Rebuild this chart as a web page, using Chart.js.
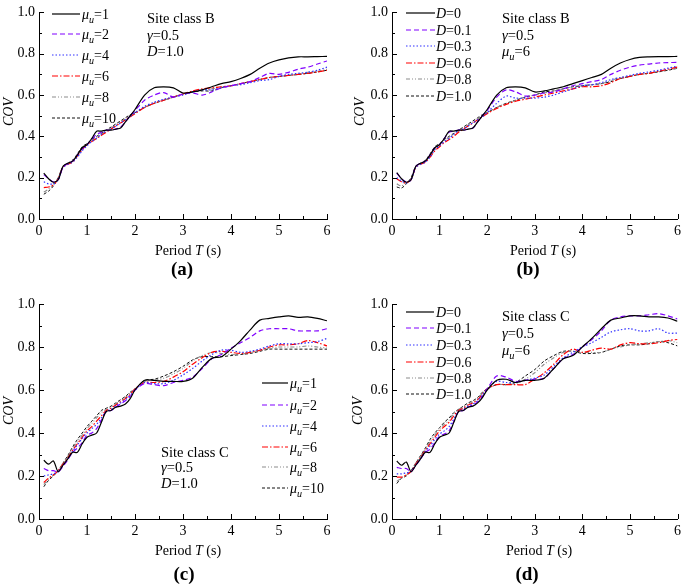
<!DOCTYPE html>
<html>
<head>
<meta charset="utf-8">
<script src="https://cdn.jsdelivr.net/npm/chart.js@4.4.0/dist/chart.umd.min.js"></script>
<style>
  body { margin: 0; background: #fff; }
  #wrap { position: relative; width: 685px; height: 587px; overflow: hidden; }
  canvas { position: absolute; }
</style>
</head>
<body>
<div id="wrap">
  <canvas id="chartA" width="342" height="290" style="left:0;top:0"></canvas>
  <canvas id="chartB" width="343" height="290" style="left:342px;top:0"></canvas>
  <canvas id="chartC" width="342" height="297" style="left:0;top:290px"></canvas>
  <canvas id="chartD" width="343" height="297" style="left:342px;top:290px"></canvas>
</div>
<script>
// ---------- Data ----------
const periodT = [0.1, 0.2, 0.3, 0.4, 0.5, 0.6, 0.7, 0.8, 0.9, 1.0, 1.1, 1.2, 1.3, 1.4, 1.5, 1.6, 1.7, 1.8, 1.9, 2.0,
                 2.2, 2.4, 2.6, 2.8, 3.0, 3.2, 3.4, 3.6, 3.8, 4.0, 4.2, 4.4, 4.6, 4.8, 5.0, 5.2, 5.4, 5.6, 5.8, 6.0];

const xTicks = [0, 1, 2, 3, 4, 5, 6];
const yTicks = [0.0, 0.2, 0.4, 0.6, 0.8, 1.0];

const muLabels = ["1", "2", "4", "6", "8", "10"];
const dampLabels = ["0", "0.1", "0.3", "0.6", "0.8", "1.0"];

// (a) site class B, varying mu_u
const aMu1  = [0.222,0.195,0.178,0.19,0.255,0.27,0.28,0.31,0.345,0.36,0.39,0.425,0.425,0.43,0.43,0.435,0.44,0.47,0.50,0.53, 0.60,0.635,0.64,0.635,0.61,0.615,0.625,0.64,0.655,0.665,0.68,0.70,0.73,0.755,0.77,0.78,0.785,0.785,0.786,0.787];
const aMu2  = [0.215,0.195,0.18,0.19,0.25,0.27,0.28,0.31,0.34,0.36,0.385,0.41,0.42,0.43,0.43,0.435,0.445,0.47,0.50,0.525, 0.575,0.60,0.612,0.59,0.605,0.61,0.60,0.615,0.635,0.645,0.655,0.665,0.685,0.705,0.70,0.71,0.725,0.735,0.75,0.765];
const aMu4  = [0.18,0.17,0.17,0.19,0.25,0.265,0.275,0.30,0.33,0.355,0.375,0.39,0.41,0.425,0.435,0.45,0.465,0.48,0.495,0.515, 0.545,0.565,0.58,0.59,0.60,0.615,0.625,0.625,0.635,0.645,0.65,0.66,0.67,0.675,0.69,0.70,0.705,0.71,0.72,0.735];
const aMu6  = [0.152,0.155,0.165,0.195,0.25,0.265,0.275,0.305,0.335,0.36,0.375,0.39,0.405,0.42,0.435,0.45,0.465,0.48,0.495,0.51, 0.54,0.56,0.575,0.59,0.605,0.62,0.63,0.635,0.64,0.645,0.655,0.665,0.675,0.685,0.69,0.695,0.70,0.705,0.712,0.72];
const aMu8  = [0.13,0.145,0.17,0.2,0.255,0.27,0.28,0.31,0.345,0.365,0.38,0.395,0.41,0.425,0.44,0.455,0.47,0.485,0.50,0.515, 0.54,0.56,0.575,0.59,0.605,0.615,0.625,0.63,0.64,0.645,0.655,0.665,0.675,0.685,0.69,0.695,0.70,0.71,0.715,0.725];
const aMu10 = [0.12,0.135,0.16,0.2,0.255,0.27,0.285,0.315,0.35,0.365,0.385,0.40,0.415,0.43,0.445,0.46,0.475,0.49,0.505,0.515, 0.54,0.56,0.575,0.59,0.605,0.615,0.62,0.62,0.635,0.645,0.655,0.665,0.675,0.685,0.69,0.695,0.70,0.705,0.712,0.72];

// (b) site class B, varying D
const bD0  = [0.225,0.195,0.178,0.19,0.255,0.27,0.28,0.31,0.345,0.36,0.39,0.425,0.425,0.43,0.43,0.435,0.44,0.47,0.50,0.53, 0.60,0.635,0.64,0.635,0.615,0.62,0.63,0.64,0.655,0.67,0.685,0.70,0.73,0.755,0.772,0.782,0.785,0.786,0.786,0.787];
const bD01 = [0.222,0.195,0.18,0.19,0.255,0.27,0.28,0.31,0.345,0.36,0.39,0.42,0.425,0.43,0.43,0.435,0.44,0.47,0.50,0.525, 0.59,0.625,0.615,0.595,0.60,0.61,0.615,0.63,0.645,0.655,0.665,0.675,0.70,0.72,0.735,0.745,0.75,0.755,0.757,0.758];
const bD03 = [0.20,0.185,0.175,0.19,0.25,0.265,0.275,0.30,0.335,0.355,0.375,0.39,0.41,0.43,0.435,0.45,0.465,0.48,0.495,0.515, 0.56,0.595,0.585,0.585,0.585,0.59,0.60,0.615,0.63,0.645,0.65,0.66,0.675,0.685,0.695,0.705,0.712,0.72,0.73,0.74];
const bD06 = [0.195,0.18,0.175,0.19,0.25,0.265,0.275,0.30,0.33,0.35,0.37,0.385,0.40,0.42,0.435,0.45,0.465,0.48,0.495,0.51, 0.535,0.555,0.57,0.58,0.59,0.60,0.61,0.62,0.63,0.64,0.64,0.645,0.66,0.68,0.69,0.70,0.705,0.715,0.725,0.735];
const bD08 = [0.17,0.16,0.175,0.195,0.25,0.27,0.28,0.31,0.34,0.36,0.38,0.395,0.41,0.425,0.44,0.455,0.47,0.485,0.50,0.515, 0.54,0.56,0.575,0.59,0.60,0.61,0.62,0.63,0.64,0.645,0.65,0.655,0.67,0.685,0.69,0.70,0.705,0.715,0.72,0.73];
const bD10 = [0.155,0.15,0.17,0.2,0.255,0.27,0.285,0.315,0.35,0.365,0.385,0.40,0.415,0.43,0.445,0.46,0.475,0.49,0.505,0.515, 0.54,0.56,0.575,0.59,0.60,0.615,0.62,0.63,0.64,0.645,0.65,0.655,0.665,0.68,0.69,0.70,0.705,0.712,0.72,0.73];

// (c) site class C, varying mu_u
const cMu1  = [0.273,0.255,0.27,0.22,0.25,0.28,0.31,0.31,0.35,0.38,0.39,0.40,0.45,0.50,0.505,0.52,0.525,0.535,0.56,0.60, 0.645,0.645,0.64,0.64,0.64,0.655,0.705,0.747,0.755,0.79,0.83,0.88,0.925,0.933,0.94,0.945,0.938,0.94,0.933,0.922];
const cMu2  = [0.235,0.225,0.225,0.22,0.245,0.275,0.31,0.33,0.355,0.39,0.40,0.42,0.46,0.50,0.505,0.52,0.535,0.55,0.57,0.60, 0.63,0.625,0.62,0.635,0.645,0.66,0.70,0.745,0.765,0.795,0.82,0.845,0.875,0.885,0.885,0.885,0.875,0.875,0.875,0.885];
const cMu4  = [0.20,0.205,0.21,0.22,0.25,0.28,0.315,0.345,0.375,0.40,0.42,0.44,0.47,0.50,0.51,0.525,0.54,0.555,0.575,0.60, 0.635,0.63,0.63,0.645,0.67,0.70,0.735,0.765,0.785,0.785,0.775,0.78,0.79,0.805,0.815,0.815,0.815,0.82,0.825,0.84];
const cMu6  = [0.17,0.19,0.205,0.225,0.255,0.285,0.32,0.35,0.38,0.41,0.43,0.455,0.48,0.505,0.515,0.53,0.545,0.56,0.58,0.605, 0.635,0.635,0.64,0.66,0.685,0.72,0.75,0.775,0.78,0.775,0.77,0.775,0.785,0.80,0.81,0.81,0.815,0.83,0.82,0.805];
const cMu8  = [0.16,0.185,0.205,0.225,0.26,0.29,0.33,0.36,0.39,0.42,0.445,0.47,0.495,0.51,0.52,0.535,0.55,0.565,0.585,0.605, 0.64,0.645,0.655,0.675,0.70,0.735,0.76,0.775,0.77,0.765,0.765,0.775,0.785,0.795,0.80,0.80,0.80,0.805,0.80,0.795];
const cMu10 = [0.15,0.18,0.20,0.225,0.26,0.295,0.335,0.37,0.40,0.43,0.455,0.48,0.505,0.515,0.525,0.54,0.555,0.57,0.59,0.605, 0.645,0.65,0.665,0.685,0.71,0.74,0.755,0.755,0.755,0.76,0.765,0.77,0.78,0.79,0.79,0.79,0.79,0.79,0.79,0.79];

// (d) site class C, varying D
const dD0  = [0.27,0.25,0.265,0.22,0.25,0.28,0.31,0.31,0.35,0.38,0.39,0.40,0.45,0.50,0.505,0.52,0.525,0.54,0.565,0.60, 0.645,0.65,0.635,0.645,0.645,0.655,0.70,0.745,0.76,0.80,0.84,0.885,0.925,0.935,0.945,0.945,0.94,0.94,0.935,0.92];
const dD01 = [0.24,0.235,0.235,0.22,0.25,0.28,0.31,0.325,0.355,0.385,0.395,0.41,0.455,0.50,0.505,0.52,0.53,0.545,0.57,0.605, 0.665,0.66,0.64,0.645,0.65,0.655,0.70,0.745,0.765,0.80,0.835,0.875,0.925,0.94,0.945,0.945,0.95,0.955,0.945,0.93];
const dD03 = [0.21,0.21,0.215,0.22,0.25,0.28,0.315,0.34,0.37,0.395,0.41,0.43,0.465,0.50,0.51,0.525,0.535,0.55,0.575,0.605, 0.64,0.635,0.635,0.645,0.655,0.67,0.71,0.75,0.775,0.80,0.82,0.845,0.87,0.88,0.885,0.875,0.875,0.885,0.865,0.865];
const dD06 = [0.195,0.195,0.205,0.22,0.255,0.285,0.32,0.35,0.38,0.41,0.43,0.45,0.48,0.505,0.515,0.53,0.54,0.555,0.58,0.605, 0.625,0.625,0.625,0.625,0.65,0.68,0.72,0.765,0.79,0.775,0.785,0.795,0.79,0.81,0.82,0.815,0.815,0.82,0.83,0.835];
const dD08 = [0.175,0.19,0.205,0.225,0.26,0.29,0.325,0.36,0.39,0.42,0.44,0.46,0.49,0.51,0.52,0.535,0.545,0.56,0.585,0.605, 0.625,0.625,0.63,0.65,0.68,0.72,0.75,0.775,0.78,0.775,0.775,0.775,0.79,0.80,0.81,0.815,0.82,0.825,0.83,0.82];
const dD10 = [0.165,0.19,0.20,0.225,0.26,0.295,0.33,0.37,0.40,0.425,0.45,0.47,0.495,0.51,0.525,0.54,0.55,0.565,0.59,0.605, 0.625,0.625,0.635,0.665,0.695,0.735,0.76,0.78,0.78,0.77,0.77,0.775,0.79,0.805,0.81,0.81,0.815,0.825,0.82,0.805];

// ---------- Styles ----------
const FONT = '"Liberation Serif", "Times New Roman", serif';
const lineStyles = [
    { color: "#000000", dash: [],                 width: 1.2 },
    { color: "#8000ff", dash: [5, 3],             width: 1.2 },
    { color: "#3030ff", dash: [1.5, 2],           width: 1.2 },
    { color: "#ff0000", dash: [6, 2, 1.5, 2],     width: 1.2 },
    { color: "#8c8c8c", dash: [4, 2, 1, 2, 1, 2], width: 1.1 },
    { color: "#111111", dash: [3, 2],             width: 1.0 }
];

// draw text made of parts (italic / subscript), y = middle line
function drawRich(ctx, parts, x, y, size, align) {
    const widths = parts.map(p => {
        ctx.font = (p.i ? "italic " : "") + (p.sub ? size * 0.72 : size) + "px " + FONT;
        return ctx.measureText(p.t).width;
    });
    const total = widths.reduce((s, w) => s + w, 0);
    let cx = align === "center" ? x - total / 2 : align === "right" ? x - total : x;
    ctx.fillStyle = "#000";
    ctx.textAlign = "left";
    ctx.textBaseline = "alphabetic";
    parts.forEach((p, k) => {
        ctx.font = (p.i ? "italic " : "") + (p.sub ? size * 0.72 : size) + "px " + FONT;
        ctx.fillText(p.t, cx, y + size * 0.34 + (p.sub ? size * 0.3 : 0));
        cx += widths[k];
    });
}

const muText = v => [{ t: "μ", i: true }, { t: "u", i: true, sub: true }, { t: "=" + v }];
const dText = v => [{ t: "D", i: true }, { t: "=" + v }];
const gammaText = [{ t: "γ", i: true }, { t: "=0.5" }];

// ---------- Decoration plugin (ticks, legend, notes, titles) ----------
function makeDecor(cfg) {
    return {
        id: "decor" + cfg.tag,
        afterDraw(chart) {
            const ctx = chart.ctx;
            const xs = chart.scales.x, ys = chart.scales.y;
            const area = chart.chartArea;
            ctx.save();

            // inward ticks
            ctx.strokeStyle = "#000";
            ctx.lineWidth = 1;
            ctx.setLineDash([]);
            for (let v = 0; v <= 6.001; v += 0.5) {
                const px = Math.round(xs.getPixelForValue(v)) + 0.5;
                const len = Math.abs(v - Math.round(v)) < 0.01 ? 5 : 3;
                ctx.beginPath();
                ctx.moveTo(px, area.bottom);
                ctx.lineTo(px, area.bottom - len);
                ctx.stroke();
            }
            for (let k = 0; k <= 10; k++) {
                const py = Math.round(ys.getPixelForValue(k / 10)) + 0.5;
                const len = k % 2 === 0 ? 5 : 3;
                ctx.beginPath();
                ctx.moveTo(area.left, py);
                ctx.lineTo(area.left + len, py);
                ctx.stroke();
            }

            // legend (sample lines sit on whole pixels so colours spread over two rows, as in the scan)
            const lg = cfg.legend;
            chart.data.datasets.forEach((ds, k) => {
                const st = lineStyles[k];
                const y = Math.round(lg.rows[k]);
                ctx.strokeStyle = st.color;
                ctx.lineWidth = st.width;
                ctx.setLineDash(st.dash);
                ctx.beginPath();
                ctx.moveTo(lg.x0, y);
                ctx.lineTo(lg.x1, y);
                ctx.stroke();
                ctx.setLineDash([]);
                drawRich(ctx, lg.texts[k], lg.tx, y, 14, "left");
            });

            // notes
            cfg.notes.lines.forEach((parts, k) => {
                drawRich(ctx, parts, cfg.notes.x, cfg.notes.ys[k], 14.5, "left");
            });

            // axis titles
            drawRich(ctx, [{ t: "Period " }, { t: "T", i: true }, { t: " (s)" }], cfg.xTitle[0], cfg.xTitle[1], 14, "center");
            ctx.save();
            ctx.translate(cfg.yTitle[0], cfg.yTitle[1]);
            ctx.rotate(-Math.PI / 2);
            drawRich(ctx, [{ t: "COV", i: true }], 0, 0, 14, "center");
            ctx.restore();

            // panel label
            ctx.font = "bold 19px " + FONT;
            ctx.fillStyle = "#000";
            ctx.textAlign = "center";
            ctx.textBaseline = "middle";
            ctx.fillText(cfg.label[0], cfg.label[1], cfg.label[2]);

            ctx.restore();
        }
    };
}

// ---------- Chart builder ----------
function buildPanel(canvasId, seriesList, cfg) {
    const datasets = seriesList.map((vals, k) => ({
        data: periodT.map((t, j) => ({ x: t, y: vals[j] })),
        borderColor: lineStyles[k].color,
        borderWidth: lineStyles[k].width,
        borderDash: lineStyles[k].dash,
        pointRadius: 0,
        tension: 0.3,
        fill: false,
        order: k
    }));

    return new Chart(document.getElementById(canvasId), {
        type: "line",
        data: { datasets },
        options: {
            responsive: false,
            animation: false,
            devicePixelRatio: 1,
            layout: { padding: { left: 0, top: cfg.top, right: cfg.right, bottom: 0 } },
            plugins: { legend: { display: false }, tooltip: { enabled: false } },
            scales: {
                x: {
                    type: "linear",
                    min: 0, max: 6,
                    afterBuildTicks: s => { s.ticks = xTicks.map(v => ({ value: v })); },
                    afterFit: s => { s.height = cfg.xHeight; },
                    grid: { display: false, drawTicks: false },
                    border: { display: true, color: "#000", width: 1 },
                    ticks: { color: "#000", font: { family: FONT, size: 14 }, padding: 4, maxRotation: 0,
                             callback: v => String(v) }
                },
                y: {
                    type: "linear",
                    min: 0, max: 1,
                    afterBuildTicks: s => { s.ticks = yTicks.map(v => ({ value: v })); },
                    afterFit: s => { s.width = cfg.yWidth; },
                    grid: { display: false, drawTicks: false },
                    border: { display: true, color: "#000", width: 1 },
                    ticks: { color: "#000", font: { family: FONT, size: 14 }, padding: 4,
                             callback: v => Number(v).toFixed(1) }
                }
            }
        },
        plugins: [makeDecor(cfg)]
    });
}

buildPanel("chartA", [aMu1, aMu2, aMu4, aMu6, aMu8, aMu10], {
    tag: "A", top: 5, right: 15, yWidth: 39, xHeight: 71,
    legend: { x0: 52, x1: 80, tx: 82, rows: [14, 34, 55, 76, 97, 118], texts: muLabels.map(muText) },
    notes: { x: 147, ys: [18, 35, 51], lines: [[{ t: "Site class B" }], gammaText, dText("1.0")] },
    xTitle: [188, 250], yTitle: [8, 112], label: ["(a)", 182, 270]
});

buildPanel("chartB", [bD0, bD01, bD03, bD06, bD08, bD10], {
    tag: "B", top: 5, right: 4, yWidth: 50, xHeight: 71,
    legend: { x0: 64, x1: 93, tx: 94, rows: [13, 30, 46, 63, 79, 96], texts: dampLabels.map(dText) },
    notes: { x: 160, ys: [18, 35, 51], lines: [[{ t: "Site class B" }], gammaText, muText("6")] },
    xTitle: [201, 250], yTitle: [17, 112], label: ["(b)", 186, 270]
});

buildPanel("chartC", [cMu1, cMu2, cMu4, cMu6, cMu8, cMu10], {
    tag: "C", top: 14, right: 15, yWidth: 39, xHeight: 68,
    legend: { x0: 262, x1: 288, tx: 290, rows: [93, 115, 136, 157, 177, 198], texts: muLabels.map(muText) },
    notes: { x: 161, ys: [162, 177, 193], lines: [[{ t: "Site class C" }], gammaText, dText("1.0")] },
    xTitle: [188, 260], yTitle: [8, 121], label: ["(c)", 184, 285]
});

buildPanel("chartD", [dD0, dD01, dD03, dD06, dD08, dD10], {
    tag: "D", top: 14, right: 4, yWidth: 50, xHeight: 68,
    legend: { x0: 64, x1: 92, tx: 94, rows: [22, 38, 55, 72, 88, 104], texts: dampLabels.map(dText) },
    notes: { x: 160, ys: [26, 43, 60], lines: [[{ t: "Site class C" }], gammaText, muText("6")] },
    xTitle: [197, 260], yTitle: [15, 121], label: ["(d)", 185, 285]
});
</script>
</body>
</html>
